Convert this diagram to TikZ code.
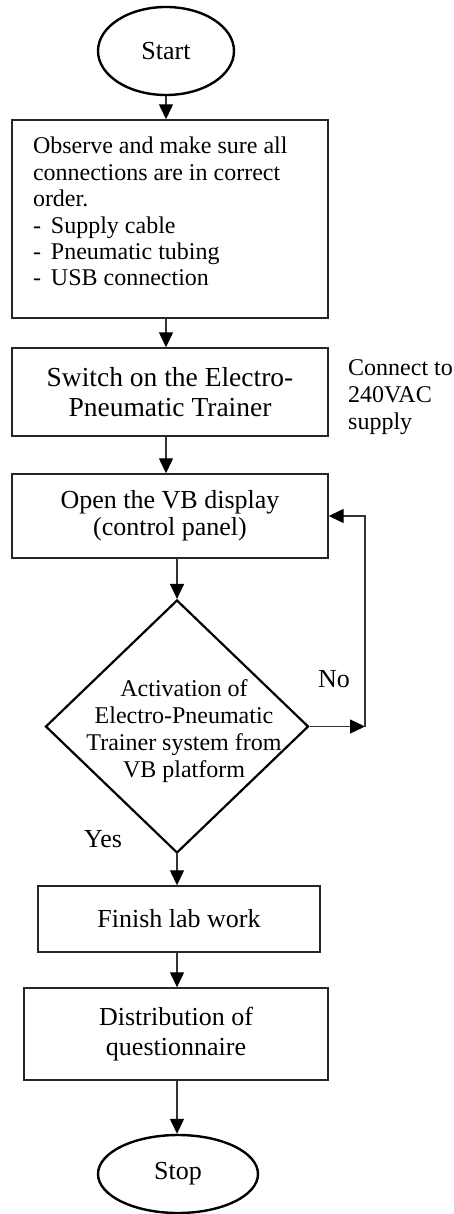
\documentclass[tikz,border=0pt]{standalone}
\usepackage{fontspec}
\setmainfont{Liberation Serif}
\usetikzlibrary{shapes.geometric, arrows.meta}

\begin{document}
\begin{tikzpicture}[
    x=1pt, y=-1pt,
    >={Triangle[length=15pt, width=14pt, color=black]},
    terminal/.style={ellipse, draw=black, line width=2.4pt, inner sep=0pt, font=\fontsize{26}{30}\selectfont},
    process/.style={rectangle, draw=black!85, line width=1.4pt, inner sep=0pt, align=center, font=\fontsize{26}{30}\selectfont},
    decision/.style={diamond, draw=black, line width=2.2pt, inner sep=0pt},
    flow/.style={->, line width=1.3pt, color=black!80},
    plain/.style={inner sep=0pt, font=\fontsize{26}{30}\selectfont}
]

    % Page frame
    \useasboundingbox (0,0) rectangle (453,1214);

    % Start / stop
    \node[terminal, minimum width=136pt, minimum height=88pt] (start) at (166,51) {Start};
    \node[terminal, minimum width=160pt, minimum height=78pt] (stop) at (178,1174) {Stop};

    % Process boxes
    \node[process, align=flush left, text width=274pt, inner xsep=21pt, minimum height=198pt,
          text height=20pt, text depth=150pt,
          font=\fontsize{24}{26.4}\selectfont] (observe) at (170,219)
        {Observe and make sure all\\connections are in correct\\order.\\
         -\hspace{10pt}Supply cable\\-\hspace{10pt}Pneumatic tubing\\-\hspace{10pt}USB connection};
    \node[process, minimum width=316pt, minimum height=88pt,
          font=\fontsize{27.5}{30}\selectfont] (switch) at (170,392)
        {Switch on the Electro-\\Pneumatic Trainer};
    \node[process, minimum width=316pt, minimum height=84pt,
          font=\fontsize{26}{27}\selectfont] (openvb) at (170,516)
        {Open the VB display\\(control panel)};
    \node[process, minimum width=282pt, minimum height=66pt] (finish) at (179,919) {Finish lab work};
    \node[process, minimum width=304pt, minimum height=92pt] (distrib) at (176,1034)
        {Distribution of\\questionnaire};

    % Side note
    \node[plain, anchor=west, align=left, font=\fontsize{24}{27}\selectfont] (supply) at (348,397)
        {Connect to\\240VAC\\supply};

    % Decision
    \node[decision, minimum width=263pt, minimum height=253pt,
          label={[font=\fontsize{24}{27}\selectfont, align=center, xshift=7pt, yshift=-5pt]center:{Activation of\\Electro-Pneumatic\\Trainer system from\\VB platform}}]
        (decide) at (177,726.5) {};
    \node[plain] (nolabel) at (334,679) {No};
    \node[plain] (yeslabel) at (103,839) {Yes};
    \coordinate (loop) at (365,726.5);

    % Connectors
    \draw[flow] (start.south) -- (start.south |- observe.north);
    \draw[flow] (observe.south -| start) -- (switch.north -| start);
    \draw[flow] (switch.south -| start) -- (openvb.north -| start);
    \draw[flow] (openvb.south -| decide) -- (decide.north);
    \draw[flow] (decide.east) -- (loop);
    \draw[flow] (loop) |- (openvb.east);
    \draw[flow] (decide.south) -- (decide.south |- finish.north);
    \draw[flow] (finish.south -| decide) -- (distrib.north -| decide);
    \draw[flow] (distrib.south -| decide) -- (stop.north -| decide);

\end{tikzpicture}
\end{document}
